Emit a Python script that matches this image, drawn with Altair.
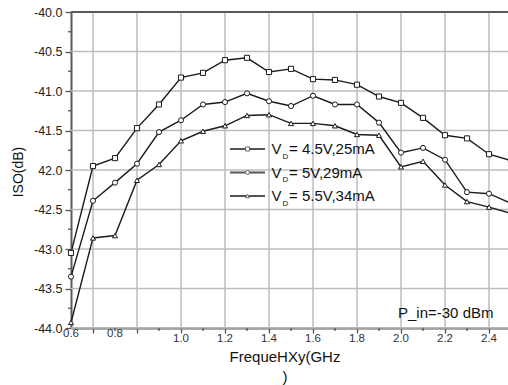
import altair as alt
import pandas as pd

# ---------------- data ----------------
freq = [0.5, 0.6, 0.7, 0.8, 0.9, 1.0, 1.1, 1.2, 1.3, 1.4, 1.5, 1.6, 1.7,
        1.8, 1.9, 2.0, 2.1, 2.2, 2.3, 2.4, 2.5]
iso_45 = [-43.05, -41.95, -41.85, -41.47, -41.17, -40.83, -40.77, -40.61, -40.58,
          -40.76, -40.72, -40.85, -40.86, -40.92, -41.07, -41.15, -41.34, -41.56,
          -41.60, -41.80, -41.88]
iso_50 = [-43.35, -42.39, -42.16, -41.92, -41.52, -41.37, -41.17, -41.14, -41.03,
          -41.13, -41.19, -41.06, -41.17, -41.17, -41.40, -41.78, -41.72, -41.87,
          -42.28, -42.30, -42.42]
iso_55 = [-43.93, -42.86, -42.83, -42.13, -41.93, -41.63, -41.51, -41.44, -41.31,
          -41.30, -41.41, -41.41, -41.44, -41.55, -41.56, -41.96, -41.89, -42.19,
          -42.40, -42.47, -42.55]

series_names = ["4.5V,25mA", "5V,29mA", "5.5V,34mA"]
series_shapes = ["square", "circle", "triangle-up"]
legend_main = ["V", "V", "V"]
legend_sub = ["D", "D", "D"]
legend_rest = ["= 4.5V,25mA", "= 5V,29mA", "= 5.5V,34mA"]

y_tick_values = [-40.0, -40.5, -41.0, -41.5, -42.0, -42.5, -43.0, -43.5, -44.0]
y_tick_labels = ["-40.0", "-40.5", "-41.0", "-41.5", "42.0", "-42.5", "-43.0", "-43.5", "-44.0"]
y_minor_ticks = [-43.75, -43.25, -42.75, -42.25, -41.75, -41.25, -40.75, -40.25]
x_major_ticks = [0.6, 0.8, 1.0, 1.2, 1.4, 1.6, 1.8, 2.0, 2.2, 2.4]
x_minor_ticks = [0.7, 0.9, 1.1, 1.3, 1.5, 1.7, 1.9, 2.1, 2.3]

x_label_pos_a = [0.5, 0.7]
x_label_text_a = ["0.6", "0.8"]
x_label_pos_b = [1.0, 1.2, 1.4, 1.6, 1.8, 2.0, 2.2, 2.4]
x_label_text_b = ["1.0", "1.2", "1.4", "1.6", "1.8", "2.0", "2.2", "2.4"]

x_title_lines = ["FrequeHXy(GHz", ")"]
y_title = "ISO(dB)"
note_text = "P_in=-30 dBm"

# ---------------- build tables ----------------
rows = []
for name, vals in zip(series_names, [iso_45, iso_50, iso_55]):
    for f, v in zip(freq, vals):
        rows.append({"freq": f, "iso": v, "series": name})
df = pd.DataFrame(rows)

W, H = 437, 316
FONT = "Liberation Sans"
INK = "#1a1a1a"
AX = "#5a5a5a"
GRID = "#bcbcbc"

X_MIN, X_MAX = 0.5, 0.5 + W / 220.0
Y_MIN, Y_MAX = -44.0, -40.0
xscale = alt.Scale(domain=[X_MIN, X_MAX], nice=False, zero=False)
yscale = alt.Scale(domain=[Y_MIN, Y_MAX], nice=False, zero=False)

# grid segments built from the tick arrays and the scale domains
grid_rows = []
for k, v in enumerate(x_major_ticks):
    grid_rows.append({"freq": v, "iso": Y_MIN, "g": f"x{k}"})
    grid_rows.append({"freq": v, "iso": Y_MAX, "g": f"x{k}"})
for k, v in enumerate(y_tick_values):
    grid_rows.append({"freq": X_MIN, "iso": v, "g": f"y{k}"})
    grid_rows.append({"freq": X_MAX, "iso": v, "g": f"y{k}"})
grid_df = pd.DataFrame(grid_rows)

vals_js = "[" + ",".join(str(v) for v in y_tick_values) + "]"
labs_js = "[" + ",".join("'" + s + "'" for s in y_tick_labels) + "]"
y_label_expr = (f"indexof({vals_js}, datum.value) >= 0 ? "
                f"{labs_js}[indexof({vals_js}, datum.value)] : ''")

xaxis = alt.Axis(
    values=x_major_ticks, labels=False, title=None, grid=False,
    tickSize=5, tickColor="#555", tickWidth=1.3,
    domainColor=AX, domainWidth=2,
)
yaxis = alt.Axis(
    values=y_tick_values, title=None, labelExpr=y_label_expr, labelOverlap=False,
    grid=False,
    tickSize=6, tickColor="#555", tickWidth=1.3,
    domainColor=AX, domainWidth=2,
    labelFont=FONT, labelFontSize=12.5, labelColor="#222", labelPadding=3,
)

X = alt.X("freq:Q", scale=xscale, axis=xaxis)
Y = alt.Y("iso:Q", scale=yscale, axis=yaxis)

grid = alt.Chart(grid_df).mark_line(color=GRID, strokeWidth=1.5, opacity=1).encode(
    x=X, y=Y, detail="g:N", order=alt.Order("iso:Q")
)

lines = alt.Chart(df).mark_line(color=INK, strokeWidth=1.4).encode(
    x=X, y=Y, detail="series:N",
)
points = alt.Chart(df).mark_point(filled=True, fill="white", stroke=INK,
                                  strokeWidth=1, size=26, opacity=1).encode(
    x=X, y=Y,
    shape=alt.Shape("series:N", scale=alt.Scale(domain=series_names, range=series_shapes),
                    legend=None),
)

top_border = alt.Chart(pd.DataFrame({"a": [0]})).mark_rule(color=AX, strokeWidth=2).encode(
    x=alt.value(0), x2=alt.value(W), y=alt.value(0)
)

x_minor = alt.Chart(pd.DataFrame({"freq": x_minor_ticks})).mark_rule(color="#555", strokeWidth=1.3).encode(
    x=X, y=alt.value(H), y2=alt.value(H + 3)
)
y_minor = alt.Chart(pd.DataFrame({"iso": y_minor_ticks})).mark_rule(color="#555", strokeWidth=1.3).encode(
    y=Y, x=alt.value(-3), x2=alt.value(0)
)

xl_a = alt.Chart(pd.DataFrame({"freq": x_label_pos_a, "t": x_label_text_a})).mark_text(
    font=FONT, fontSize=11.5, color="#333", baseline="middle", align="center"
).encode(x=X, y=alt.value(H + 6), text="t:N")
xl_b = alt.Chart(pd.DataFrame({"freq": x_label_pos_b, "t": x_label_text_b})).mark_text(
    font=FONT, fontSize=11.5, color="#333", baseline="middle", align="center"
).encode(x=X, y=alt.value(H + 11), text="t:N")

layers = [grid, lines, points, top_border, x_minor, y_minor, xl_a, xl_b]

for i, ln in enumerate(x_title_lines):
    layers.append(alt.Chart(pd.DataFrame({"t": [ln]})).mark_text(
        font=FONT, fontSize=15, color="#111", baseline="middle", align="center"
    ).encode(x=alt.value(214), y=alt.value(345 + 20 * i), text="t:N"))

layers.append(alt.Chart(pd.DataFrame({"t": [y_title]})).mark_text(
    font=FONT, fontSize=14, color="#111", baseline="middle", align="center", angle=270
).encode(x=alt.value(-52), y=alt.value(160), text="t:N"))

layers.append(alt.Chart(pd.DataFrame({"t": [note_text]})).mark_text(
    font=FONT, fontSize=15, color="#111", baseline="alphabetic", align="left"
).encode(x=alt.value(327), y=alt.value(306), text="t:N"))

# legend drawn inside the plot
for i in range(3):
    yy = 137 + 23.5 * i
    one = pd.DataFrame({"main": [legend_main[i]], "sub": [legend_sub[i]], "rest": [legend_rest[i]]})
    lcol = "#555" if i == 1 else INK
    lw = 2.2 if i == 1 else 1.6
    layers.append(alt.Chart(one).mark_rule(color=lcol, strokeWidth=lw).encode(
        x=alt.value(159), x2=alt.value(194), y=alt.value(yy)))
    layers.append(alt.Chart(one).mark_point(shape=series_shapes[i], filled=True, fill="white",
                                            stroke="#666", strokeWidth=1, size=16, opacity=1).encode(
        x=alt.value(176.5), y=alt.value(yy)))
    layers.append(alt.Chart(one).mark_text(font=FONT, fontSize=15, color="#111",
                                           baseline="middle", align="left").encode(
        x=alt.value(200.5), y=alt.value(yy), text="main:N"))
    layers.append(alt.Chart(one).mark_text(font=FONT, fontSize=8, color="#111",
                                           baseline="middle", align="left").encode(
        x=alt.value(211.5), y=alt.value(yy + 7.5), text="sub:N"))
    layers.append(alt.Chart(one).mark_text(font=FONT, fontSize=15, color="#111",
                                           baseline="middle", align="left").encode(
        x=alt.value(218), y=alt.value(yy), text="rest:N"))

chart = alt.layer(*layers).properties(
    width=W, height=H,
    autosize=alt.AutoSizeParams(type="none"),
    padding={"left": 71, "top": 12, "right": 0, "bottom": 57},
    background="white",
).configure_view(stroke=None)

chart.save("out.html", embed_options={"renderer": "svg", "actions": False})
